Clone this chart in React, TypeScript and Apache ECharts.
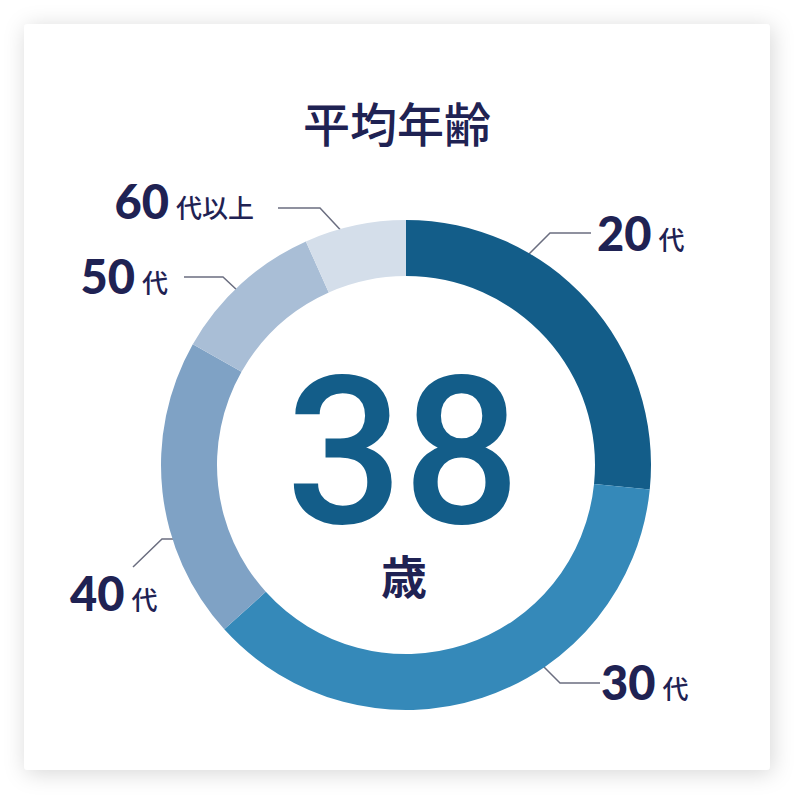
import * as echarts from "echarts";
import { useEffect, useRef } from "react";

// 年代別の構成比（%）
const categories = ["20代", "30代", "40代", "50代", "60代以上"];
const ratios = [26.6, 36.7, 19.9, 10.1, 6.7];
const colors = ["#135d89", "#3589b9", "#7fa2c5", "#a9bed6", "#d4deea"];
const averageAge = "38";
const ageUnit = "歳";
const chartTitle = "平均年齢";

const NAVY = "#1f2253";
const CX = 406;
const CY = 465;

// ラベル位置と引き出し線（ピクセル）
const labelSpots = [
  { x: 597, y: 234, align: "left", line: [[521, 262], [550, 233], [591, 233]] },
  { x: 601, y: 683, align: "left", line: [[532, 655], [560, 683], [600, 683]] },
  { x: 70, y: 594, align: "left", line: [[203, 539], [162, 539], [133, 567]] },
  { x: 168, y: 277, align: "right", line: [[253, 305], [223, 277], [184, 277]] },
  { x: 254, y: 202, align: "right", line: [[348, 238], [320, 208], [278, 208]] },
];

const App = () => {
  const chartRef = useRef<HTMLDivElement | null>(null);

  useEffect(() => {
    const chart = echarts.init(chartRef.current!, null, { renderer: "svg" });

    const option = {
      animation: false,
      graphic: [
        {
          type: "rect",
          z: -10,
          shape: { x: 24, y: 24, width: 746, height: 746, r: 4 },
          style: {
            fill: "#ffffff",
            shadowBlur: 22,
            shadowColor: "rgba(0,0,0,0.16)",
            shadowOffsetX: 2,
            shadowOffsetY: 3,
          },
        },
        {
          type: "text",
          x: 397,
          y: 121,
          style: {
            text: chartTitle,
            fill: NAVY,
            font: '500 47px "Noto Sans CJK JP"',
            align: "center",
            verticalAlign: "middle",
          },
        },
        {
          type: "text",
          x: CX - 3,
          y: 452,
          style: {
            text: averageAge,
            fill: "#135d89",
            font: '500 206px Roboto',
            lineHeight: 150,
            align: "center",
            verticalAlign: "middle",
          },
        },
        {
          type: "text",
          x: CX - 2,
          y: 574,
          style: {
            text: ageUnit,
            fill: NAVY,
            font: 'bold 46px "Noto Sans CJK JP"',
            lineHeight: 46,
            align: "center",
            verticalAlign: "middle",
          },
        },
      ],
      series: [
        {
          type: "pie",
          center: [CX, CY],
          radius: [189, 245],
          startAngle: 90,
          clockwise: true,
          silent: true,
          data: categories.map((name, i) => ({
            name,
            value: ratios[i],
            itemStyle: { color: colors[i] },
          })),
          label: {
            show: true,
            formatter: (p: any) => {
              const m = String(p.name).match(/^(\d+)(.*)$/);
              return m ? `{n|${m[1]}}{u|${m[2]}}` : p.name;
            },
            rich: {
              n: {
                fontFamily: "Lato",
                fontWeight: 900,
                fontSize: 47,
                color: NAVY,
                verticalAlign: "bottom",
                lineHeight: 44,
              },
              u: {
                fontFamily: '"Noto Sans CJK JP"',
                fontWeight: 500,
                fontSize: 26,
                color: NAVY,
                verticalAlign: "bottom",
                lineHeight: 40,
                padding: [0, 0, 5, 7],
              },
            },
          },
          labelLine: {
            show: true,
            lineStyle: { color: "#6b6e80", width: 1.5 },
          },
          labelLayout: (p: any) => {
            const s = labelSpots[p.dataIndex];
            return {
              x: s.x,
              y: s.y,
              align: s.align,
              verticalAlign: "middle",
              labelLinePoints: s.line,
            };
          },
        },
      ],
    };

    chart.setOption(option);

    return () => {
      chart.dispose();
    };
  }, []);

  return (
    <div
      ref={chartRef}
      style={{ position: "absolute", left: 0, top: 0, width: 806, height: 806 }}
    />
  );
};

export default App;
